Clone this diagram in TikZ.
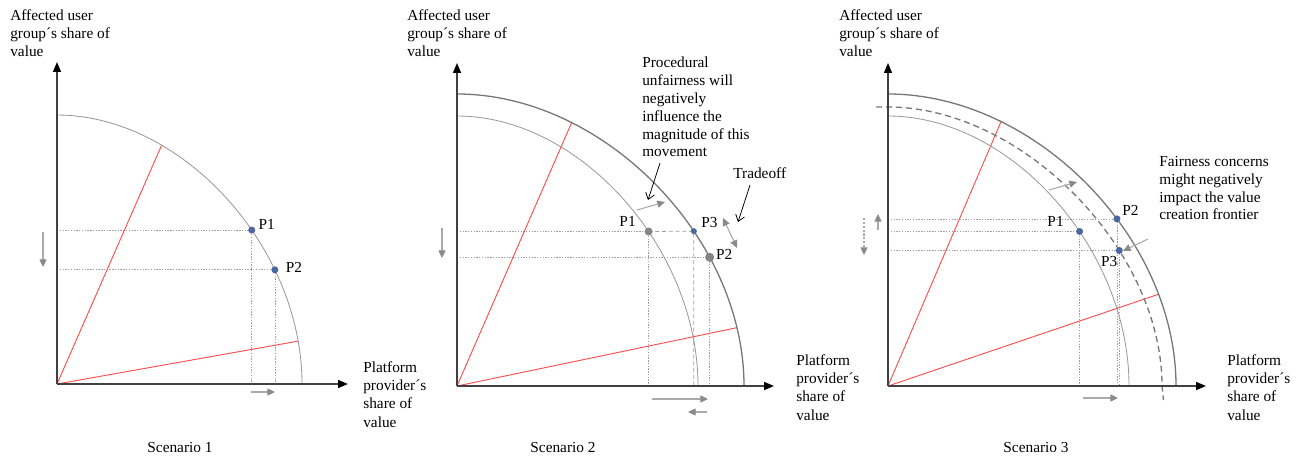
\documentclass[tikz,border=0pt]{standalone}
\usepackage{fontspec}
\setmainfont{Liberation Serif}
\usetikzlibrary{arrows.meta,positioning}

\definecolor{frontgray}{HTML}{777777}
\definecolor{thingray}{HTML}{9A9A9A}
\definecolor{guidegray}{HTML}{A0A0A0}
\definecolor{sharered}{HTML}{FF4B4B}
\definecolor{dotblue}{HTML}{4A67A0}
\definecolor{dotgray}{HTML}{858585}
\definecolor{arrowgray}{HTML}{8A8A8A}
\definecolor{shaftgray}{HTML}{AAAAAA}

\begin{document}
\begin{tikzpicture}[
    x=0.652pt, y=0.652pt,
    axisline/.style={
        draw=black!75,
        line width=1pt,
        -{Triangle[length=6.5pt,width=5.2pt,color=black]},
    },
    outerfront/.style={draw=frontgray, line width=0.85pt},
    innerfront/.style={draw=thingray, line width=0.55pt},
    shiftfront/.style={draw=frontgray, line width=0.85pt, dash pattern=on 4pt off 2.5pt},
    guide/.style={draw=guidegray, line width=0.45pt, dash pattern=on 0.9pt off 0.9pt},
    guidedash/.style={draw=guidegray, line width=0.5pt, dash pattern=on 2.6pt off 1.8pt},
    shareline/.style={draw=sharered, line width=0.6pt},
    movearrow/.style={
        draw=shaftgray,
        line width=0.7pt,
        -{Triangle[length=5pt,width=4.6pt,color=arrowgray]},
    },
    moveboth/.style={
        movearrow,
        {Triangle[length=5pt,width=4.6pt,color=arrowgray]}-{Triangle[length=5pt,width=4.6pt,color=arrowgray]},
    },
    notearrow/.style={draw=black, line width=0.5pt, -{Straight Barb[length=4pt,width=6pt]}},
    axislabel/.style={
        font=\fontsize{10}{12}\selectfont,
        align=left,
        inner sep=0pt,
        anchor=north west,
    },
    notetext/.style={
        font=\fontsize{10}{11.6}\selectfont,
        align=left,
        inner sep=0pt,
        anchor=north west,
    },
    ptlabel/.style={font=\fontsize{10}{12}\selectfont, inner sep=0pt},
    captiontext/.style={font=\fontsize{10}{12}\selectfont, inner sep=0pt},
]
\useasboundingbox (0,0) rectangle (1302,456);

% Scenario 1
\begin{scope}[shift={(57,72)}]
\coordinate (o1) at (0,0);
\coordinate (ytip1) at (0,322);
\coordinate (xtip1) at (291,0);
\path (0,269) .. controls (124.95,269) and (245,137.19) .. (245,0)
    coordinate[pos=0.29] (r1a) coordinate[pos=0.6] (p1a)
    coordinate[pos=0.712] (p2a) coordinate[pos=0.895] (r2a);
\draw[guide] (p1a -| o1) -- (p1a) -- (p1a |- o1);
\draw[guide] (p2a -| o1) -- (p2a) -- (p2a |- o1);
\draw[shareline] (o1) -- (r1a);
\draw[shareline] (o1) -- (r2a);
\draw[innerfront] (0,269) .. controls (124.95,269) and (245,137.19) .. (245,0);
\draw[axisline] (o1) -- (ytip1);
\draw[axisline] (o1) -- (xtip1);
\fill[dotblue] (p1a) circle[radius=3.5];
\fill[dotblue] (p2a) circle[radius=3.5];
\path (p1a) ++(15,6) node[ptlabel] (lp1a) {P1};
\path (p2a) ++(19,2) node[ptlabel] (lp2a) {P2};
\coordinate (dn1s) at (-14,152);
\coordinate (dn1e) at (-14,117);
\draw[movearrow] (dn1s) -- (dn1e);
\coordinate (rt1s) at (194,-8);
\coordinate (rt1e) at (218,-8);
\draw[movearrow] (rt1s) -- (rt1e);
\node[axislabel] (ylab1) at (-47,375) {Affected user\\group´s share of\\value};
\node[axislabel] (xlab1) at (306,23) {Platform\\provider´s\\share of\\value};
\node[captiontext] (cap1) at (123,-63) {Scenario 1};
\end{scope}

% Scenario 2
\begin{scope}[shift={(457,70)}]
\coordinate (o2) at (0,0);
\coordinate (ytip2) at (0,323);
\coordinate (xtip2) at (317,0);
\path (0,292) .. controls (146.37,292) and (287,148.92) .. (287,0)
    coordinate[pos=0.27] (r1b) coordinate[pos=0.633] (p3b)
    coordinate[pos=0.70] (p2b) coordinate[pos=0.868] (r2b);
\path (0,270) .. controls (122.91,270) and (241,137.7) .. (241,0)
    coordinate[pos=0.6] (p1b);
\draw[guide] (p1b -| o2) -- (p1b) -- (p1b |- o2);
\draw[guide] (p2b -| o2) -- (p2b) -- (p2b |- o2);
\draw[guidedash] (p1b) -- (p3b) -- (p3b |- o2);
\draw[shareline] (o2) -- (r1b);
\draw[shareline] (o2) -- (r2b);
\draw[innerfront] (0,270) .. controls (122.91,270) and (241,137.7) .. (241,0);
\draw[outerfront] (0,292) .. controls (146.37,292) and (287,148.92) .. (287,0);
\draw[axisline] (o2) -- (ytip2);
\draw[axisline] (o2) -- (xtip2);
\fill[dotgray] (p1b) circle[radius=4];
\fill[dotblue] (p3b) circle[radius=3];
\fill[dotgray] (p2b) circle[radius=4.5];
\path (p1b) ++(-21,10) node[ptlabel] (lp1b) {P1};
\path (p3b) ++(15.5,9) node[ptlabel] (lp3b) {P3};
\path (p2b) ++(14.5,3) node[ptlabel] (lp2b) {P2};
\coordinate (dn2s) at (-15,158);
\coordinate (dn2e) at (-15,128);
\draw[movearrow] (dn2s) -- (dn2e);
\coordinate (rt2s) at (195,-13);
\coordinate (rt2e) at (251,-13);
\draw[movearrow] (rt2s) -- (rt2e);
\coordinate (lf2s) at (250,-26);
\coordinate (lf2e) at (231,-26);
\draw[movearrow] (lf2s) -- (lf2e);
\coordinate (up2s) at (180,176);
\coordinate (up2e) at (208,184);
\draw[movearrow] (up2s) -- (up2e);
\coordinate (tr2a) at (266,168);
\coordinate (tr2b) at (280,138);
\draw[moveboth] (tr2a) -- (tr2b);
\node[notetext] (proc) at (185,329) {Procedural\\unfairness will\\negatively\\influence the\\magnitude of this\\movement};
\coordinate (proc2s) at (203,223);
\coordinate (proc2e) at (191,186);
\draw[notearrow] (proc2s) -- (proc2e);
\node[notetext] (trade) at (276,219) {Tradeoff};
\coordinate (trade2s) at (293,201);
\coordinate (trade2e) at (281,164);
\draw[notearrow] (trade2s) -- (trade2e);
\node[axislabel] (ylab2) at (-50,377) {Affected user\\group´s share of\\value};
\node[axislabel] (xlab2) at (339,32) {Platform\\provider´s\\share of\\value};
\node[captiontext] (cap2) at (106,-61) {Scenario 2};
\end{scope}

% Scenario 3
\begin{scope}[shift={(888,70)}]
\coordinate (o3) at (0,0);
\coordinate (ytip3) at (0,323);
\coordinate (xtip3) at (318,0);
\path (0,292) .. controls (146.88,292) and (288,148.92) .. (288,0)
    coordinate[pos=0.265] (r1c) coordinate[pos=0.6] (p2c) coordinate[pos=0.79] (r2c);
\path (0,279) .. controls (134.26,279) and (274,136.71) .. (274,0)
    coordinate[pos=0.66] (p3c);
\path (0,270) .. controls (122.91,270) and (241,137.7) .. (241,0)
    coordinate[pos=0.6] (p1c);
\draw[guide] (p2c -| o3) -- (p2c) -- (p2c |- o3);
\draw[guide] (p1c -| o3) -- (p1c) -- (p1c |- o3);
\draw[guide] (p3c -| o3) -- (p3c) -- (p3c |- o3);
\draw[shareline] (o3) -- (r1c);
\draw[shareline] (o3) -- (r2c);
\draw[innerfront] (0,270) .. controls (122.91,270) and (241,137.7) .. (241,0);
\draw[shiftfront] (-12,279) -- (0,279) .. controls (134.26,279) and (274,136.71) .. (274,0) -- (275.5,-14);
\draw[outerfront] (0,292) .. controls (146.88,292) and (288,148.92) .. (288,0);
\draw[axisline] (o3) -- (ytip3);
\draw[axisline] (o3) -- (xtip3);
\fill[dotblue] (p1c) circle[radius=3.5];
\fill[dotblue] (p2c) circle[radius=3.5];
\fill[dotblue] (p3c) circle[radius=3.5];
\path (p1c) ++(-24,10.5) node[ptlabel] (lp1c) {P1};
\path (p2c) ++(13.6,8) node[ptlabel] (lp2c) {P2};
\path (p3c) ++(-10,-11) node[ptlabel] (lp3c) {P3};
\coordinate (up3s) at (-10,156);
\coordinate (up3e) at (-10,172);
\draw[movearrow] (up3s) -- (up3e);
\coordinate (dn3s) at (-24,168);
\coordinate (dn3e) at (-24,131);
\draw[movearrow, dash pattern=on 1.5pt off 1pt] (dn3s) -- (dn3e);
\coordinate (rt3s) at (195,-12);
\coordinate (rt3e) at (230,-12);
\draw[movearrow] (rt3s) -- (rt3e);
\coordinate (out3s) at (161,196);
\coordinate (out3e) at (189,204);
\draw[movearrow] (out3s) -- (out3e);
\coordinate (in3s) at (260,147);
\coordinate (in3e) at (235,135);
\draw[movearrow] (in3s) -- (in3e);
\node[notetext] (fair) at (271,230) {Fairness concerns\\might negatively\\impact the value\\creation frontier};
\node[axislabel] (ylab3) at (-49,377) {Affected user\\group´s share of\\value};
\node[axislabel] (xlab3) at (339,32) {Platform\\provider´s\\share of\\value};
\node[captiontext] (cap3) at (148,-61) {Scenario 3};
\end{scope}
\end{tikzpicture}
\end{document}
